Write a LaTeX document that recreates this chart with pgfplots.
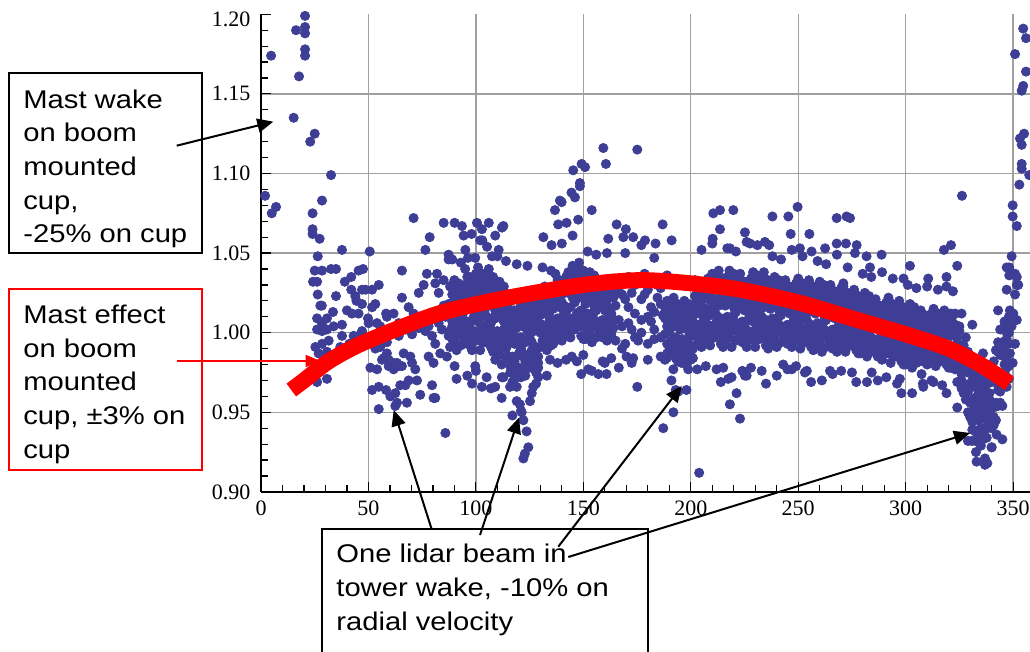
\documentclass[border=0pt]{standalone}
\usepackage{fontspec}
\setmainfont{Liberation Serif}
\newfontfamily\arial{Liberation Sans}
\usepackage{graphicx}
\usepackage{pgfplots}
\pgfplotsset{compat=1.18}
\usepackage{pgfplotstable}
\usetikzlibrary{arrows.meta}
\definecolor{dotblue}{RGB}{62,62,150}
\definecolor{gridgray}{RGB}{160,160,160}
\newcommand{\ann}[1]{\scalebox{1.14}[1]{\arial\fontsize{12.8}{15}\selectfont #1}}
\pgfplotsset{dots/.style={only marks, mark=*, color=dotblue, mark size=2.3pt, mark options={solid, draw=dotblue, fill=dotblue}}}

\pgfplotstableread{
x a b c d e f g
88 0.991 1.013 1.029 nan 1.018 1.001 1.015
89 1.004 1.024 0.996 1.046 1.007 1.030 0.997
90 1.020 1.000 1.033 nan 1.025 0.994 1.022
91 0.989 1.017 1.023 0.971 0.999 1.020 1.005
92 1.012 1.031 1.003 nan 1.014 1.008 1.028
93 0.998 1.021 1.009 1.044 0.992 1.018 1.002
94 1.026 0.993 1.018 nan 1.022 1.000 1.012
95 1.028 0.998 1.040 nan 1.006 1.022 1.002
96 0.993 1.020 1.031 0.973 1.035 1.007 1.024
97 1.015 1.005 1.035 nan 1.018 1.029 0.994
98 1.024 0.990 1.019 1.062 0.999 0.995 1.033
99 1.001 1.032 1.010 nan 1.027 1.016 1.008
100 1.037 1.012 0.995 0.976 1.011 1.031 1.019
101 1.007 1.025 1.041 nan 1.038 1.001 1.027
102 1.010 1.032 0.989 nan 1.028 1.023 0.998
103 1.037 1.002 1.022 1.058 0.994 1.017 1.026
104 0.994 1.028 1.013 nan 1.021 1.000 1.036
105 1.019 0.998 1.036 0.972 1.032 1.005 1.010
106 1.004 1.040 1.017 nan 1.006 1.030 1.021
107 1.030 0.991 1.007 0.965 1.024 0.997 1.006
108 0.988 1.023 1.027 nan 1.001 1.035 0.994
109 0.983 1.009 1.027 nan 1.014 0.994 1.011
110 0.998 1.022 0.988 1.048 1.001 1.028 0.989
111 1.016 0.993 1.032 nan 1.023 0.986 1.019
112 0.980 1.013 1.020 0.959 0.992 1.016 0.999
113 1.007 1.029 0.997 nan 1.010 1.002 1.026
114 0.990 1.018 1.003 1.045 0.984 1.014 0.996
115 1.024 0.985 1.014 nan 1.019 0.993 1.007
116 1.007 0.975 1.020 nan 0.983 1.000 0.979
117 0.969 0.999 1.010 0.948 1.014 0.985 1.003
118 0.993 0.982 1.014 nan 0.996 1.008 0.971
119 1.003 0.966 0.997 1.043 0.976 0.972 1.013
120 0.978 1.011 0.987 nan 1.006 0.994 0.986
121 1.017 0.990 0.972 0.951 0.989 1.010 0.997
122 0.985 1.004 1.021 nan 1.018 0.978 1.006
123 0.994 1.016 0.973 nan 1.012 1.007 0.982
124 1.021 0.986 1.006 1.042 0.978 1.001 1.010
125 0.978 1.012 0.997 nan 1.005 0.984 1.020
126 1.003 0.982 1.020 0.962 1.016 0.989 0.994
127 0.988 1.024 1.001 nan 0.990 1.014 1.005
128 1.014 0.975 0.991 0.968 1.008 0.981 0.990
129 0.972 1.007 1.011 nan 0.985 1.019 0.978
130 0.991 1.011 1.025 nan 1.015 1.000 nan
131 1.003 1.021 0.995 1.041 1.005 1.026 nan
132 1.017 0.999 1.029 nan 1.022 0.994 nan
133 0.989 1.014 1.020 0.973 0.998 1.017 nan
134 1.010 1.027 1.002 nan 1.012 1.006 nan
135 0.997 1.018 1.007 1.039 0.992 1.015 nan
136 1.023 0.993 1.015 nan 1.019 0.999 nan
137 1.027 1.002 1.037 nan 1.008 1.022 nan
138 0.997 1.020 1.029 0.981 1.033 1.009 nan
139 1.016 1.007 1.033 nan 1.018 1.028 nan
140 1.024 0.995 1.019 1.056 1.003 0.999 nan
141 1.004 1.030 1.012 nan 1.026 1.017 nan
142 1.035 1.014 0.999 0.983 1.013 1.029 nan
143 1.009 1.025 1.038 nan 1.036 1.004 nan
144 1.016 1.037 0.997 nan 1.033 1.028 nan
145 1.042 1.009 1.027 1.061 1.002 1.022 nan
146 1.002 1.033 1.019 nan 1.026 1.007 nan
147 1.025 1.006 1.040 0.982 1.037 1.012 nan
148 1.010 1.044 1.022 nan 1.013 1.034 nan
149 1.034 0.998 1.014 0.974 1.030 1.004 nan
150 0.996 1.028 1.032 nan 1.008 1.039 nan
151 0.996 1.018 1.034 nan 1.023 1.006 nan
152 1.009 1.029 1.001 1.051 1.012 1.035 nan
153 1.025 1.005 1.038 nan 1.030 0.999 nan
154 0.994 1.022 1.028 0.976 1.004 1.025 nan
155 1.017 1.036 1.008 nan 1.019 1.013 nan
156 1.003 1.026 1.014 1.049 0.997 1.023 nan
157 1.031 0.998 1.023 nan 1.027 1.005 nan
158 1.024 1.001 1.033 nan 1.007 1.019 nan
159 0.997 1.018 1.026 0.982 1.029 1.008 nan
160 1.014 1.006 1.029 nan 1.016 1.025 nan
161 1.021 0.995 1.017 1.050 1.002 0.999 nan
162 1.003 1.027 1.010 nan 1.023 1.015 nan
163 1.031 1.012 0.999 0.984 1.011 1.026 nan
164 1.008 1.022 1.034 nan 1.032 1.003 nan
165 0.995 1.017 1.026 nan nan nan nan
166.5 1.008 1.028 nan 0.978 nan nan nan
168 1.024 1.004 0.990 nan nan nan nan
169.5 0.993 1.021 nan 1.050 nan nan nan
171 1.016 1.035 1.006 nan nan nan nan
172.5 1.002 1.025 nan 0.981 nan nan nan
174 1.030 0.997 1.012 nan nan nan nan
175.5 0.995 1.033 nan nan nan nan nan
177 1.008 1.000 1.021 1.055 nan nan nan
178.5 1.024 1.037 nan nan nan nan nan
180 0.993 1.027 1.010 0.983 nan nan nan
181.5 1.016 1.007 nan nan nan nan nan
183 1.002 1.013 0.996 1.047 nan nan nan
184.5 1.030 1.022 nan nan nan nan nan
186 0.997 1.018 1.028 0.985 nan nan nan
187 1.011 1.031 nan nan nan nan nan
188 0.999 1.016 0.983 nan 1.013 1.009 nan
189 1.020 0.993 1.008 1.036 0.987 1.004 nan
190 0.987 1.013 1.001 nan 1.007 0.991 nan
191 1.006 0.990 1.019 0.970 1.016 0.995 nan
192 0.994 1.022 1.004 nan 0.996 1.014 nan
193 1.014 0.984 0.997 0.964 1.010 0.989 nan
194 0.982 1.009 1.012 nan 0.992 1.018 nan
195 0.982 1.002 1.016 nan 1.006 0.991 nan
196 0.994 1.012 0.986 1.032 0.996 1.017 nan
197 1.008 0.990 1.020 nan 1.013 0.985 nan
198 0.980 1.005 1.011 0.964 0.989 1.008 nan
199 1.001 1.018 0.993 nan 1.003 0.997 nan
200 0.988 1.009 0.998 1.030 0.983 1.006 nan
201 1.014 0.984 1.006 nan 1.010 0.990 nan
202 1.023 0.998 1.033 nan 1.004 1.018 1.001
203 0.993 1.016 1.025 0.977 1.029 1.005 1.020
204 1.012 1.003 1.029 nan 1.014 1.024 0.994
205 1.020 0.991 1.015 1.052 0.999 0.995 1.027
206 1.000 1.026 1.008 nan 1.022 1.013 1.006
207 1.031 1.010 0.995 0.979 1.009 1.025 1.015
208 1.005 1.021 1.034 nan 1.032 1.000 1.022
209 1.011 1.032 0.992 nan 1.028 1.023 1.001
210 1.037 1.004 1.022 1.056 0.997 1.017 1.026
211 0.997 1.028 1.014 nan 1.021 1.002 1.035
212 1.020 1.001 1.035 0.977 1.032 1.007 1.011
213 1.005 1.039 1.017 nan 1.008 1.029 1.021
214 1.029 0.993 1.009 0.969 1.025 0.999 1.008
215 0.991 1.023 1.027 nan 1.003 1.034 0.997
216 0.993 1.017 1.034 nan 1.022 1.004 1.020
217 1.008 1.029 0.998 1.053 1.010 1.035 0.999
218 1.025 1.003 1.039 nan 1.031 0.997 1.027
219 0.991 1.021 1.028 0.972 1.002 1.025 1.009
220 1.016 1.037 1.007 nan 1.019 1.011 1.033
221 1.001 1.026 1.013 1.051 0.995 1.022 1.005
222 1.032 0.996 1.022 nan 1.027 1.003 1.016
223 1.026 0.998 1.037 nan 1.006 1.020 1.002
224 0.994 1.019 1.028 0.976 1.032 1.007 1.022
225 1.014 1.004 1.032 nan 1.016 1.027 0.995
226 1.022 0.991 1.018 1.057 1.000 0.996 1.031
227 1.001 1.030 1.009 nan 1.025 1.015 1.008
228 1.034 1.012 0.996 0.978 1.010 1.028 1.018
229 1.007 1.024 1.038 nan 1.036 1.001 1.025
230 1.010 1.031 0.991 nan 1.027 1.022 1.000
231 1.036 1.003 1.021 1.055 0.996 1.016 1.025
232 0.996 1.027 1.013 nan 1.020 1.001 1.034
233 1.019 1.000 1.034 0.976 1.031 1.006 1.010
234 1.004 1.038 1.016 nan 1.007 1.028 1.020
235 1.028 0.992 1.008 0.968 1.024 0.998 1.007
236 0.990 1.022 1.026 nan 1.002 1.033 0.996
237 0.993 1.015 1.031 nan 1.020 1.003 1.017
238 1.006 1.026 0.998 1.048 1.009 1.032 0.999
239 1.022 1.002 1.035 nan 1.027 0.996 1.024
240 0.991 1.019 1.025 0.973 1.001 1.022 1.007
241 1.014 1.033 1.005 nan 1.016 1.010 1.030
242 1.000 1.023 1.011 1.046 0.994 1.020 1.004
243 1.028 0.995 1.020 nan 1.024 1.002 1.014
244 1.023 0.998 1.033 nan 1.004 1.018 1.001
245 0.993 1.016 1.025 0.977 1.029 1.005 1.020
246 1.012 1.003 1.029 nan 1.014 1.024 0.994
247 1.020 0.991 1.015 1.052 0.999 0.995 1.027
248 1.000 1.026 1.008 nan 1.022 1.013 1.006
249 1.031 1.010 0.995 0.979 1.009 1.025 1.015
250 1.005 1.021 1.034 nan 1.032 1.000 1.022
251 1.008 1.026 0.990 nan 1.023 1.019 0.998
252 1.031 1.001 1.018 1.048 0.994 1.013 1.021
253 0.994 1.023 1.010 nan 1.017 0.999 1.030
254 1.015 0.998 1.030 0.976 1.026 1.003 1.008
255 1.002 1.033 1.013 nan 1.004 1.024 1.017
256 1.024 0.991 1.005 0.969 1.020 0.997 1.004
257 0.989 1.019 1.022 nan 1.000 1.029 0.994
258 0.990 1.012 1.028 nan 1.017 1.000 1.014
259 1.003 1.023 0.995 1.045 1.006 1.029 0.996
260 1.019 0.999 1.032 nan 1.024 0.993 1.021
261 0.988 1.016 1.022 0.970 0.998 1.019 1.004
262 1.011 1.030 1.002 nan 1.013 1.007 1.027
263 0.997 1.020 1.008 1.043 0.991 1.017 1.001
264 1.025 0.992 1.017 nan 1.021 0.999 1.011
265 1.020 0.995 1.030 nan 1.001 1.015 0.998
266 0.990 1.013 1.022 0.974 1.026 1.002 1.017
267 1.009 1.000 1.026 nan 1.011 1.021 0.991
268 1.017 0.988 1.012 1.049 0.996 0.992 1.024
269 0.997 1.023 1.005 nan 1.019 1.010 1.003
270 1.028 1.007 0.992 0.976 1.006 1.022 1.012
271 1.002 1.018 1.031 nan 1.029 0.997 1.019
272 1.004 1.021 0.988 nan 1.018 1.014 0.995
273 1.025 0.998 1.013 1.041 0.992 1.009 1.016
274 0.992 1.018 1.006 nan 1.012 0.996 1.024
275 1.011 0.995 1.024 0.975 1.021 1.000 1.004
276 0.999 1.027 1.009 nan 1.001 1.019 1.012
277 1.019 0.989 1.002 0.969 1.015 0.994 1.001
278 0.987 1.014 1.017 nan 0.997 1.023 0.992
279 0.987 1.007 1.021 nan 1.011 0.996 1.009
280 0.999 1.017 0.991 1.037 1.001 1.022 0.992
281 1.013 0.995 1.025 nan 1.018 0.990 1.015
282 0.985 1.010 1.016 0.969 0.994 1.013 1.000
283 1.006 1.023 0.998 nan 1.008 1.002 1.020
284 0.993 1.014 1.003 1.035 0.988 1.011 0.997
285 1.019 0.989 1.011 nan 1.015 0.995 1.006
286 1.012 0.989 1.021 nan 0.995 1.007 0.992
287 0.985 1.006 1.014 0.970 1.017 0.996 1.009
288 1.002 0.994 1.017 nan 1.004 1.013 0.986
289 1.009 0.983 1.005 1.038 0.990 0.987 1.016
290 0.991 1.015 0.998 nan 1.011 1.003 0.997
291 1.019 1.000 0.987 0.972 0.999 1.014 1.005
292 0.996 1.010 1.022 nan 1.020 0.991 1.011
293 0.997 1.014 0.981 nan 1.011 1.007 0.988
294 1.018 0.991 1.006 1.034 0.985 1.002 1.009
295 0.985 1.011 0.999 nan 1.005 0.989 1.017
296 1.004 0.988 1.017 0.968 1.014 0.993 0.997
297 0.992 1.020 1.002 nan 0.994 1.012 1.005
298 1.012 0.982 0.995 0.962 1.008 0.987 0.994
299 0.980 1.007 1.010 nan 0.990 1.016 0.985
300 0.980 1.000 1.014 nan 1.004 0.989 1.002
301 0.992 1.010 0.984 1.030 0.994 1.015 0.985
302 1.006 0.988 1.018 nan 1.011 0.983 1.008
303 0.978 1.003 1.009 0.962 0.987 1.006 0.993
304 0.999 1.016 0.991 nan 1.001 0.995 1.013
305 0.986 1.007 0.996 1.028 0.981 1.004 0.990
306 1.012 0.982 1.004 nan 1.008 0.988 0.999
307 1.006 0.985 1.014 nan 0.991 1.002 0.988
308 0.982 1.001 1.008 0.968 1.011 0.992 1.003
309 0.997 0.990 1.011 nan 0.999 1.007 0.983
310 1.003 0.980 1.000 1.029 0.986 0.983 1.010
311 0.987 1.009 0.993 nan 1.005 0.998 0.992
312 1.012 0.995 0.983 0.970 0.994 1.008 1.000
313 0.992 1.004 1.015 nan 1.013 0.987 1.005
314 0.993 1.009 0.979 nan 1.006 1.002 0.985
315 1.012 0.988 1.001 1.027 0.982 0.998 1.004
316 0.982 1.006 0.995 nan 1.001 0.986 1.011
317 1.000 0.985 1.011 0.967 1.009 0.990 0.993
318 0.989 1.014 0.998 nan 0.991 1.007 1.001
319 1.007 0.980 0.991 0.962 1.003 0.984 0.991
320 0.978 1.002 1.005 nan 0.987 1.010 0.982
321 0.978 0.998 1.012 nan 1.002 0.987 1.000
322 0.988 1.006 0.980 1.026 0.990 1.011 0.981
323 1.000 0.982 1.012 nan 1.005 0.977 1.002
324 0.969 0.994 1.000 0.953 0.978 0.997 0.984
325 0.987 1.004 0.979 nan 0.989 0.983 1.001
326 0.970 0.991 0.980 1.012 0.965 0.988 0.974
327 0.992 0.962 0.984 nan 0.988 0.968 0.979
328 0.986 0.958 0.997 nan 0.966 0.980 0.962
329 0.950 0.975 0.984 0.932 0.988 0.963 0.978
330 0.966 0.956 0.984 nan 0.968 0.979 0.947
331 0.970 0.939 0.966 1.005 0.948 0.944 0.979
332 0.945 0.974 0.953 nan 0.969 0.959 0.952
333 0.975 0.953 0.937 0.919 0.951 0.969 0.959
334 0.945 0.962 0.976 nan 0.974 0.939 0.963
335 0.947 0.965 0.929 nan 0.962 0.958 0.937
336 0.970 0.940 0.957 0.987 0.933 0.952 0.960
337 0.934 0.963 0.950 nan 0.957 0.939 0.970
338 0.957 0.940 0.972 0.918 0.968 0.945 0.950
339 0.947 0.978 0.958 nan 0.949 0.969 0.962
340 0.973 0.940 0.954 0.928 0.969 0.946 0.953
341 0.942 0.972 0.975 nan 0.953 0.982 0.947
342 0.945 0.971 0.989 nan 0.976 0.956 0.973
343 0.964 0.988 0.954 1.014 0.967 0.994 0.955
344 0.986 0.963 1.002 nan 0.993 0.956 0.989
345 0.954 0.987 0.994 0.933 0.966 0.990 0.973
346 0.985 1.007 0.975 nan 0.988 0.980 1.004
347 0.972 1.000 0.985 1.027 0.966 0.996 0.978
348 1.010 0.971 1.000 nan 1.005 0.979 0.993
}\core

\begin{document}
\begin{tikzpicture}
\useasboundingbox (0,0) rectangle (515pt,326pt);
\begin{axis}[
  at={(130.5pt,80.05pt)}, anchor=south west,
  scale only axis, width=384.65pt, height=238.8pt,
  xmin=0, xmax=358, ymin=0.90, ymax=1.20,
  clip mode=individual,
  axis x line*=bottom, axis y line*=left,
  axis line style={line width=0.75pt, black},
  tick align=inside,
  xtick={0,50,100,150,200,250,300,350},
  xticklabels={0,50,100,150,200,250,300,350},
  minor x tick num=4,
  ytick={0.90,0.95,1.00,1.05,1.10,1.15},
  yticklabels={0.90,0.95,1.00,1.05,1.10,1.15},
  minor ytick={0.91,0.92,0.93,0.94,0.96,0.97,0.98,0.99,1.01,1.02,1.03,1.04,1.06,1.07,1.08,1.09,1.11,1.12,1.13,1.14,1.16,1.17,1.18,1.19},
  extra y ticks={1.20}, extra y tick labels={1.20},
  extra y tick style={grid=none, tick label style={yshift=-2.4pt}},
  grid=major,
  major grid style={gridgray, line width=0.65pt},
  major tick length=5pt, minor tick length=3.3pt,
  tick style={black, line width=0.6pt},
  tick label style={font=\fontsize{11}{13}\selectfont},
  yticklabel style={xshift=-1.8pt},
  xticklabel style={yshift=-0.85pt},
]
\addplot[dots] table[x=x,y=a]{\core};
\addplot[dots] table[x=x,y=b]{\core};
\addplot[dots] table[x=x,y=c]{\core};
\addplot[dots] table[x=x,y=d]{\core};
\addplot[dots] table[x=x,y=e]{\core};
\addplot[dots] table[x=x,y=f]{\core};
\addplot[dots] table[x=x,y=g]{\core};
% sparse points and outliers
\addplot[dots] coordinates {
(1.9,1.086) (5,1.075) (7,1.079) (4.7,1.174) (15.2,1.135) (16.3,1.190) (17.7,1.161)
(20.5,1.199) (20.5,1.192) (20.5,1.188) (20.5,1.178) (20.5,1.174) (22.9,1.120) (25,1.125)
(32.6,1.099) (28.4,1.083) (24.0,1.075) (24.0,1.065) (24.0,1.062) (27.3,1.059) (26.4,1.048)
(37.7,1.052) (50.6,1.051) (25.0,1.039) (28.4,1.039) (32.6,1.040) (34.9,1.040) (24.2,1.032)
(26.1,1.032) (39.0,1.032) (42.0,1.035) (45.4,1.039) (47.5,1.040) (54.8,1.030) (26.4,1.024)
(34.9,1.023) (27.6,1.017) (28.3,1.017) (33.5,1.013) (42.0,1.027) (43.9,1.023) (47.0,1.027)
(48.6,1.027) (51.7,1.027) (44.4,1.020) (47.0,1.018) (40.0,1.014) (42.3,1.012) (45.4,1.012)
(49.8,1.009) (51.7,1.016) (53.2,1.018) (58.2,1.012) (26.1,1.009) (28.4,1.006) (30.7,1.009)
(37.7,1.005) (26.1,1.002) (28.4,1.001) (30.7,1.002) (33.8,1.004) (28.4,0.993) (31.5,0.995)
(37.7,0.998) (43.1,0.998) (47.0,1.001) (50.1,1.006) (54.0,1.006) (55.5,1.004) (25.3,0.991)
(26.8,0.987) (30.7,0.988) (36.9,0.991) (26.1,0.978) (26.1,0.969) (30.7,0.971) (41.1,0.993)
(45.4,0.998) (53.2,0.990) (55.5,0.991) (58.6,0.994) (50.9,0.978) (54.0,0.977) (56.3,0.983)
(59.4,0.979) (61.7,0.981) (64.1,0.979) (65.6,0.979) (51.7,0.964) (54.8,0.966) (58.2,0.964)
(60.2,0.960) (62.5,0.962) (64.8,0.967) (67.2,0.967) (68.7,0.970) (54.8,0.952) (62.5,0.954)
(63.3,0.956) (67.9,0.956) (74.1,0.961) (79.6,0.967) (80.3,0.959) (81.1,0.959) (85.8,0.937)
(58.6,0.987) (57.1,0.984) (59.4,0.983) (61.7,0.977) (63.3,0.981) (66.4,0.987) (69.5,0.985)
(70.3,0.981) (71.8,0.977) (72.6,0.970) (64.1,0.998) (67.2,1.002) (70.3,0.999) (73.4,1.003)
(74.9,1.006) (76.5,1.001) (78.0,1.004) (79.6,0.998) (81.1,0.993) (84.2,1.002) (87.3,0.998)
(89.6,0.993) (65.6,1.039) (71.0,1.072) (78.5,1.060) (76.5,1.052) (77.2,1.037) (75.7,1.030)
(73.4,1.025) (68.7,1.016) (71.0,1.012) (73.4,1.010) (65.6,1.022) (64.1,1.006) (58.6,1.010)
(61.7,1.012) (82.7,1.006) (85.0,1.012) (82.7,1.025) (81.1,1.031) (85.0,1.033) (81.9,1.037)
(87.3,1.046) (85.0,1.069) (90.1,1.069) (93.5,1.067) (94.3,1.061) (87.3,1.018) (85.0,1.017)
(90.4,1.018) (85.8,1.010) (78.0,0.985) (80.3,0.981) (83.4,0.987) (86.5,0.985) (90.1,0.979)
(90.4,0.991) (98.2,0.968) (102.8,0.966) (109.0,0.966) (112.1,0.972) (98.2,0.989) (99.7,0.979)
(100.5,1.069) (106,1.069) (102.8,1.065) (112.1,1.066) (109.0,1.061) (105.2,1.054) (110.6,1.052)
(107.5,1.048) (99.7,1.047) (102,1.058) (95.1,1.052) (96.3,1.047) (87.3,1.049)
(122.1,0.945) (123.6,0.938) (124.4,0.928) (122.8,0.924) (122.1,0.921) (121.3,0.950) (120.5,0.955)
(119,0.957) (125.2,0.957) (126.7,0.966) (115.9,0.966) (112.8,0.972)
(159.3,1.116) (160.5,1.106) (175.1,1.115) (149.2,1.106) (150.8,1.104) (145.3,1.102) (148.4,1.092)
(148.4,1.094) (146.1,1.085) (144.5,1.088) (139.1,1.083) (139.9,1.082) (136.8,1.077) (153.9,1.077)
(147.6,1.071) (138.3,1.068) (112.8,1.067) (131.4,1.060) (165.5,1.068) (169.8,1.065) (173.2,1.060)
(186.9,1.068) (191.1,1.058) (178.7,1.058) (183.6,1.056) (161.6,1.059) (168.6,1.060) (142.2,1.069)
(135.2,1.055) (210.5,1.075) (213.6,1.077) (219.8,1.077) (213.6,1.065) (210.2,1.059) (218.2,1.053)
(175.1,0.966) (187.2,0.940) (191.9,0.950) (203.9,0.912) (194.2,0.963) (221.3,0.962) (218.2,0.955)
(222.9,0.946) (215.1,0.978) (226,0.973) (217.4,0.971) (152.3,0.977) (157,0.974) (160.8,0.974)
(160,0.981) (150,0.986) (144.6,0.985) (170.1,0.985) (173.2,0.984) (190.3,0.989) (191.9,0.977)
(195.7,0.981) (198.8,0.977) (188.8,0.984) (134.5,0.983) (129,0.981)
(249.7,1.079) (238,1.073) (245.4,1.073) (267.9,1.072) (272.5,1.073) (274.1,1.072) (225.2,1.063)
(246.5,1.062) (255.2,1.062) (227.6,1.056) (234.5,1.057) (236.5,1.055) (250.8,1.053) (267.9,1.056)
(272.2,1.056) (277.2,1.055) (262.5,1.053) (256.2,1.051) (281.8,1.048) (288.8,1.049) (299,1.034)
(302,1.042) (310.5,1.034) (276.4,1.050) (283.4,1.041)
(225.2,0.973) (247,0.977) (243,0.980) (253.1,0.975) (264.8,0.976) (284.2,0.975) (297.3,0.971)
(308.2,0.966) (312.9,0.969) (307.4,0.974)
(326.2,1.086) (317.8,1.052) (321.1,1.055) (324,1.042) (319,1.029) (319,1.035)
(349.8,1.080) (349.8,1.073) (351.7,1.067) (349.3,1.048) (348.2,1.041) (351.7,1.035) (352.4,1.030)
(350.9,1.024) (348.5,1.014) (350.1,1.012) (349.3,1.004) (350.9,0.993) (348.5,0.987) (349.8,0.981)
(347,1.006) (347.8,1.000) (351.7,1.008) (348.2,1.036) (347,1.041) (350.9,1.037) (351.7,1.030)
(354.7,1.191) (356,1.185) (350.9,1.175) (356,1.164) (354.7,1.155) (354,1.152) (353.2,1.122)
(355.1,1.125) (354,1.118) (354,1.106) (354,1.103) (357.5,1.099) (352.9,1.093)
(336.9,0.917) (336.9,0.921) (332.7,0.925) (340,0.928) (342.3,0.936) (330.7,0.932) (332.3,0.932)
(334.6,0.935) (337.7,0.934)
};
\addplot[red, line width=8pt, smooth] coordinates {
(14.1,0.964) (20,0.970) (31.5,0.982) (45,0.992) (62.5,1.002) (85,1.013) (115,1.022)
(150,1.030) (176,1.033) (200,1.031) (223,1.027) (250,1.019) (275,1.009) (300,0.999)
(320,0.990) (336,0.979) (348.2,0.968)
};
\end{axis}
\begin{scope}[x=0.5pt, y=-0.5pt, yshift=326pt]
  % box 1
  \draw[line width=1pt, fill=white] (9.3,73.3) rectangle (201.7,253.3);
  \node[anchor=base west, inner sep=0] at (23,108.3) {\ann{Mast wake}};
  \node[anchor=base west, inner sep=0] at (23,141.9) {\ann{on boom}};
  \node[anchor=base west, inner sep=0] at (23,175.5) {\ann{mounted}};
  \node[anchor=base west, inner sep=0] at (23,209.1) {\ann{cup,}};
  \node[anchor=base west, inner sep=0] at (23,242.7) {\ann{-25\% on cup}};
  \draw[line width=1pt, -{Triangle[length=8pt,width=7pt]}] (176.7,145.7) -- (273.3,121.7);
  % box 2
  \draw[red, line width=1pt, fill=white] (9.3,289.3) rectangle (201.7,470);
  \node[anchor=base west, inner sep=0] at (23,323.3) {\ann{Mast effect}};
  \node[anchor=base west, inner sep=0] at (23,357.1) {\ann{on boom}};
  \node[anchor=base west, inner sep=0] at (23,390.9) {\ann{mounted}};
  \node[anchor=base west, inner sep=0] at (23,424.7) {\ann{cup, ±3\% on}};
  \node[anchor=base west, inner sep=0] at (23,458.5) {\ann{cup}};
  \draw[red, line width=1pt, -{Triangle[length=7.5pt,width=6pt]}] (177,361) -- (320.5,361);
  % box 3
  \draw[line width=1pt, fill=white] (321.7,529.3) rectangle (648.3,700);
  \node[anchor=base west, inner sep=0] at (336,562.3) {\ann{One lidar beam in}};
  \node[anchor=base west, inner sep=0] at (336,596.4) {\ann{tower wake, -10\% on}};
  \node[anchor=base west, inner sep=0] at (336,630.5) {\ann{radial velocity}};
  \draw[line width=1pt, -{Triangle[length=8pt,width=7pt]}] (431.7,529.3) -- (393.7,410);
  \draw[line width=1pt, -{Triangle[length=8pt,width=7pt]}] (480,535) -- (519,417.5);
  \draw[line width=1pt, -{Triangle[length=8pt,width=7pt]}] (558.3,546.7) -- (681.7,386);
  \draw[line width=1pt, -{Triangle[length=8pt,width=7pt]}] (568.3,557) -- (970,433);
\end{scope}
\end{tikzpicture}
\end{document}
